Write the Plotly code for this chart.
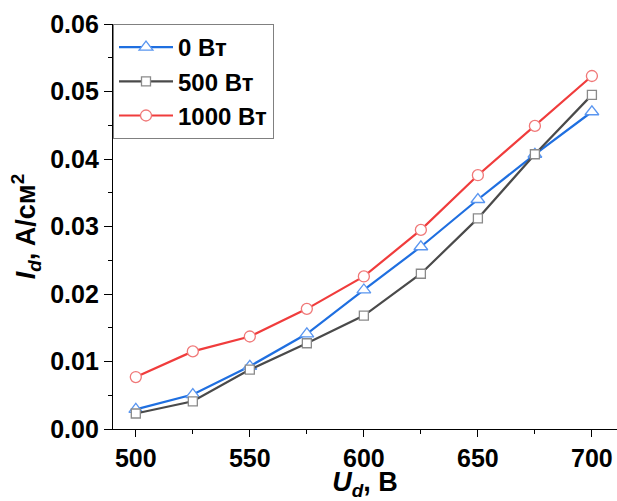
import plotly.graph_objects as go

voltage = [500, 525, 550, 575, 600, 625, 650, 675, 700]
i_0w = [0.0029, 0.0051, 0.0093, 0.0141, 0.0206, 0.0270, 0.0340, 0.0407, 0.0470]
i_500w = [0.0023, 0.0041, 0.0088, 0.0127, 0.0168, 0.0230, 0.0312, 0.0407, 0.0495]
i_1000w = [0.0077, 0.0115, 0.0137, 0.0178, 0.0226, 0.0295, 0.0376, 0.0449, 0.0523]

series_names = ["0 Вт", "500 Вт", "1000 Вт"]
line_colors = ["#1f6fe0", "#4a4a4a", "#f03c3c"]
marker_colors = ["#5a96f0", "#8a8a8a", "#f07878"]
symbols = ["triangle-up", "square", "circle"]
marker_sizes = [12, 9, 11]

FONT = "Liberation Sans, Arial, sans-serif"

fig = go.Figure()
for name, ys, lc, mc, sym, ms in zip(series_names, [i_0w, i_500w, i_1000w],
                                      line_colors, marker_colors, symbols, marker_sizes):
    fig.add_trace(go.Scatter(
        x=voltage, y=ys, name=name, mode="lines+markers",
        line=dict(color=lc, width=2.2),
        marker=dict(symbol=sym, size=ms, color="white",
                    line=dict(color=mc, width=1.3)),
    ))

fig.update_layout(
    width=617, height=501,
    margin=dict(l=113, r=0, t=24, b=72),
    plot_bgcolor="white", paper_bgcolor="white",
    font=dict(family=FONT, size=25, color="black", weight="bold"),
    showlegend=True,
    legend=dict(
        x=0, y=1, xanchor="left", yanchor="top",
        bordercolor="#808080", borderwidth=1, bgcolor="white",
        font=dict(family=FONT, size=24, color="black", weight="bold"),
        itemwidth=54, tracegroupgap=0,
    ),
)

fig.update_xaxes(
    range=[490, 711], tickvals=[500, 550, 600, 650, 700],
    showline=True, linecolor="black", linewidth=1.3,
    ticks="outside", ticklen=7, tickwidth=1.3, tickcolor="black",
    minor=dict(ticks="outside", ticklen=4, dtick=25, tick0=500, tickcolor="black", tickwidth=1.3),
    showgrid=False, zeroline=False,
    tickfont=dict(family=FONT, size=25, weight="bold"),
    title=dict(text="<i>U<sub>d</sub></i>, В", font=dict(family=FONT, size=27, weight="bold"), standoff=2),
)
fig.update_yaxes(
    range=[0, 0.06], tickvals=[0, 0.01, 0.02, 0.03, 0.04, 0.05, 0.06],
    tickformat=".2f",
    showline=True, linecolor="black", linewidth=1.3,
    ticks="outside", ticklen=8, tickwidth=1.3, tickcolor="black",
    minor=dict(ticks="outside", ticklen=4, dtick=0.005, tick0=0, tickcolor="black", tickwidth=1.3),
    showgrid=False, zeroline=False,
    tickfont=dict(family=FONT, size=25, weight="bold"),
    title=dict(text="<i>I<sub>d</sub></i>, A/см<sup>2</sup>", font=dict(family=FONT, size=27, weight="bold"), standoff=6),
)

fig.write_html("out.html")
